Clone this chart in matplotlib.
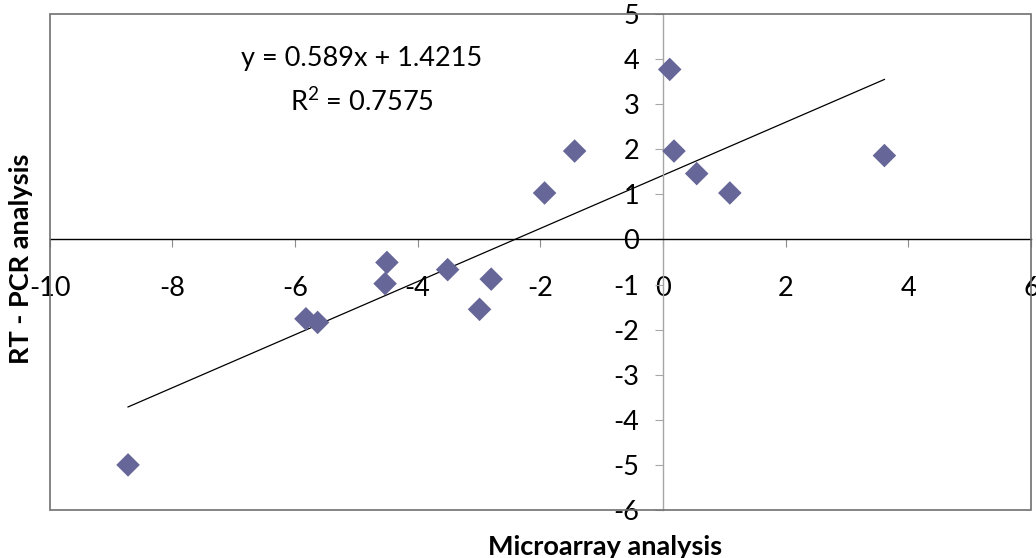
import matplotlib
matplotlib.use('Agg')
import numpy as np
import matplotlib.pyplot as plt
from matplotlib.patches import Rectangle

plt.rcParams['font.family'] = ['Lato', 'DejaVu Sans']
plt.rcParams['mathtext.default'] = 'regular'

# data
microarray = [-8.72, -5.82, -5.63, -4.53, -4.50, -3.51, -2.99, -2.80,
              -1.93, -1.44, 0.11, 0.18, 0.55, 1.09, 3.61]
rt_pcr = [-5.0, -1.76, -1.84, -0.98, -0.51, -0.67, -1.55, -0.88,
          1.03, 1.96, 3.77, 1.96, 1.46, 1.03, 1.86]
slope = 0.589
intercept = 1.4215
r2 = 0.7575
x_ticks = [-10, -8, -6, -4, -2, 0, 2, 4, 6]
y_ticks = [-6, -5, -4, -3, -2, -1, 0, 1, 2, 3, 4, 5]

fig = plt.figure(figsize=(10.36, 5.58), dpi=100)
ax = fig.add_axes([0.0478, 0.086, 0.9474, 0.889])

ax.scatter(microarray, rt_pcr, marker='D', s=12**2, color='#666699',
           edgecolors='none', zorder=3)

# trend line from equation
xs = np.array([min(microarray), max(microarray)])
ax.plot(xs, slope * xs + intercept, color='black', lw=0.9, zorder=2)

ax.set_xlim(-10, 6)
ax.set_ylim(-6, 5)
ax.set_xticks(x_ticks)
ax.set_yticks(y_ticks)

ax.spines['left'].set_position(('data', 0))
ax.spines['bottom'].set_position(('data', 0))
ax.spines['top'].set_visible(False)
ax.spines['right'].set_visible(False)
ax.spines['left'].set_color('#a6a6a6')
ax.spines['bottom'].set_color('black')
ax.spines['left'].set_linewidth(1)
ax.spines['bottom'].set_linewidth(1)

ax.tick_params(axis='x', direction='out', length=6, color='#8c8c8c',
               labelsize=19.5, pad=20)
ax.tick_params(axis='y', direction='out', length=6, color='#a6a6a6',
               labelsize=19.5, pad=11)
ax.set_xticklabels([str(t) for t in x_ticks])
ax.set_yticklabels([str(t) for t in y_ticks])

# plot area frame
ax.add_patch(Rectangle((0, 0), 1, 1, transform=ax.transAxes, fill=False,
                       ec='#707070', lw=1.2, clip_on=False, zorder=4))

ax.text(0.318, 0.911, 'y = %.3fx + %.4f' % (slope, intercept),
        transform=ax.transAxes, ha='center', va='center', fontsize=19.5)
ax.text(0.318, 0.823, 'R$^{2}$ = %.4f' % r2,
        transform=ax.transAxes, ha='center', va='center', fontsize=19.5)

fig.text(0.584, 0.041, 'Microarray analysis', ha='center', va='top',
         fontsize=19.5, fontweight='bold')
fig.text(0.0203, 0.536, 'RT - PCR analysis', ha='center', va='center',
         rotation=90, fontsize=19.5, fontweight='bold')

fig.savefig('out.png', dpi=100)
